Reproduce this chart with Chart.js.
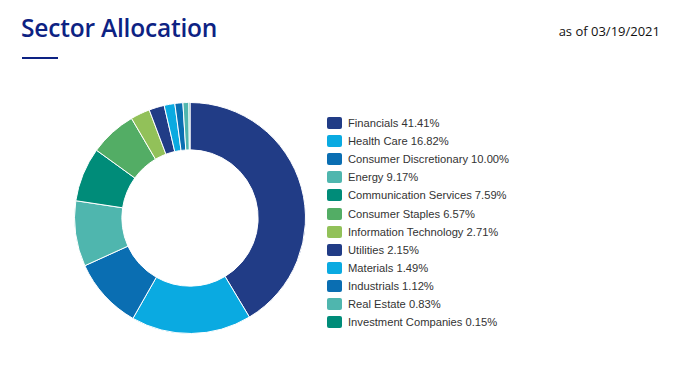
<!DOCTYPE html>
<html>
<head>
<meta charset="utf-8">
<script src="https://cdn.jsdelivr.net/npm/chart.js@4"></script>
<style>
    body { margin: 0; background: #fff; width: 679px; height: 368px; position: relative; overflow: hidden; font-family: "Liberation Sans", Arial, sans-serif; }
    .title { position: absolute; left: 21px; top: 11px; font-family: "Open Sans", sans-serif; font-size: 24.5px; font-weight: 600; color: #0d2283; letter-spacing: -0.2px; }
    .rule { position: absolute; left: 22px; top: 57px; width: 36px; height: 2px; background: #0d2283; }
    .asof { position: absolute; right: 19px; top: 22px; font-family: "Open Sans", sans-serif; font-size: 13px; color: #111; }
    .chart-box { position: absolute; left: 74px; top: 102px; width: 232px; height: 232px; }
    .legend { position: absolute; left: 327px; top: 114px; margin: 0; padding: 0; list-style: none; }
    .legend li { height: 18.1px; display: flex; align-items: center; font-size: 11.2px; color: #333; }
    .legend .sw { width: 15px; height: 12px; border-radius: 2px; margin-right: 6px; }
</style>
</head>
<body>
<div class="title">Sector Allocation</div>
<div class="rule"></div>
<div class="asof">as of 03/19/2021</div>
<div class="chart-box"><canvas id="sectorChart"></canvas></div>
<ul class="legend" id="legend"></ul>

<script>
// Sector weights (%)
const sectors = ['Financials', 'Health Care', 'Consumer Discretionary', 'Energy', 'Communication Services',
    'Consumer Staples', 'Information Technology', 'Utilities', 'Materials', 'Industrials', 'Real Estate',
    'Investment Companies'];
const weights = [41.41, 16.82, 10.00, 9.17, 7.59, 6.57, 2.71, 2.15, 1.49, 1.12, 0.83, 0.15];
const colors = ['#213c86', '#0aaae1', '#0a6eb2', '#4fb6ae', '#008c79', '#53ad65', '#92c159',
    '#213c86', '#0aaae1', '#0a6eb2', '#4fb6ae', '#008c79'];

document.addEventListener('DOMContentLoaded', function() {
    initSectorChart();
    buildLegend();
});

function initSectorChart() {
    const ctx = document.getElementById('sectorChart').getContext('2d');
    new Chart(ctx, {
        type: 'doughnut',
        data: {
            labels: sectors,
            datasets: [{
                data: weights,
                backgroundColor: colors,
                borderColor: '#ffffff',
                borderWidth: 1
            }]
        },
        options: {
            responsive: true,
            maintainAspectRatio: false,
            animation: false,
            cutout: '59%',
            layout: { padding: 0 },
            plugins: {
                legend: { display: false },
                tooltip: { enabled: false }
            }
        }
    });
}

function buildLegend() {
    const list = document.getElementById('legend');
    sectors.forEach((name, i) => {
        const li = document.createElement('li');
        li.innerHTML = '<span class="sw" style="background:' + colors[i] + '"></span>' +
            name + ' ' + weights[i].toFixed(2) + '%';
        list.appendChild(li);
    });
}
</script>
</body>
</html>
